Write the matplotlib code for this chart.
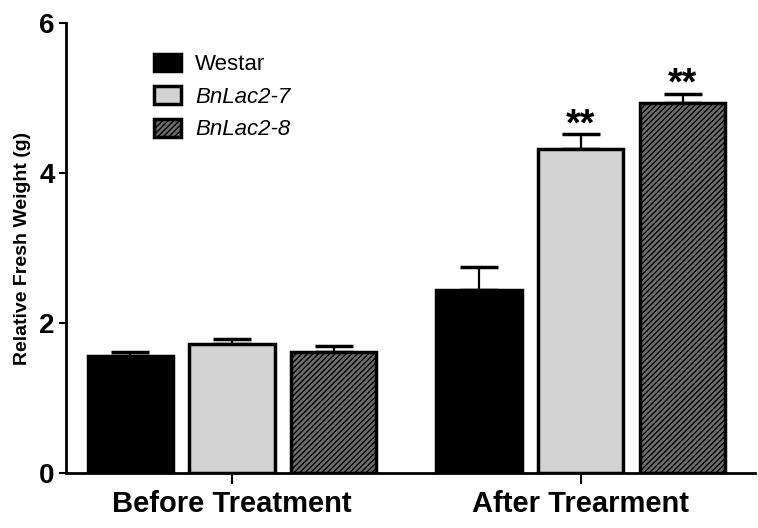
import matplotlib.pyplot as plt
import numpy as np

plt.rcParams['font.family'] = ['Liberation Sans', 'DejaVu Sans']

groups = ['Before Treatment', 'After Trearment']
lines = ['Westar', 'BnLac2-7', 'BnLac2-8']
means = {
    'Westar': [1.56, 2.44],
    'BnLac2-7': [1.72, 4.32],
    'BnLac2-8': [1.61, 4.93],
}
errs = {
    'Westar': [0.05, 0.31],
    'BnLac2-7': [0.07, 0.20],
    'BnLac2-8': [0.08, 0.13],
}
stars = {
    'Westar': ['', ''],
    'BnLac2-7': ['', '**'],
    'BnLac2-8': ['', '**'],
}

faces = {'Westar': 'black', 'BnLac2-7': '#d3d3d3', 'BnLac2-8': '#6e6e6e'}
hatches = {'Westar': None, 'BnLac2-7': None, 'BnLac2-8': '//////'}
italic = {'Westar': 'normal', 'BnLac2-7': 'italic', 'BnLac2-8': 'italic'}

fig = plt.figure(figsize=(7.58, 5.28), dpi=100)
ax = fig.add_axes([0.087, 0.104, 0.909, 0.852])

x = np.arange(len(groups))
width = 0.244
step = 0.292
plt.rcParams['hatch.linewidth'] = 1.0

handles = []
for i, name in enumerate(lines):
    pos = x + (i - 1) * step
    yerr = [np.zeros(len(groups)), errs[name]]
    b = ax.bar(pos, means[name], width, color=faces[name], edgecolor='black',
               linewidth=2.5, hatch=hatches[name], label=name, zorder=2)
    ax.errorbar(pos, means[name], yerr=yerr, fmt='none', ecolor='black',
                elinewidth=1.6, capsize=14, capthick=2.5, zorder=1)
    for p, m, e, s in zip(pos, means[name], errs[name], stars[name]):
        if s:
            ax.text(p, m + e - 0.12, s, ha='center', va='bottom',
                    fontsize=27, fontweight='bold')
    handles.append(b)

ax.set_xlim(-0.476, 1.499)
ax.set_ylim(0, 6)
ax.set_yticks([0, 2, 4, 6])
ax.set_xticks(x)
ax.set_xticklabels(groups, fontsize=21, fontweight='bold')
ax.tick_params(axis='y', labelsize=20, width=1.5, length=5, pad=3)
for lab in ax.get_yticklabels():
    lab.set_fontweight('bold')
ax.tick_params(axis='x', width=1.5, length=8, pad=4)
ax.set_ylabel('Relative Fresh Weight (g)', fontsize=14, fontweight='bold',
              labelpad=6)

for side in ['top', 'right']:
    ax.spines[side].set_visible(False)
for side in ['left', 'bottom']:
    ax.spines[side].set_linewidth(2)

leg = ax.legend(handles=handles, loc='upper left', bbox_to_anchor=(0.099, 0.977),
                frameon=False, fontsize=16, handlelength=1.2, handleheight=0.85,
                labelspacing=0.5, handletextpad=0.65)
for t, name in zip(leg.get_texts(), lines):
    t.set_fontstyle(italic[name])

fig.savefig('out.png', dpi=100)
